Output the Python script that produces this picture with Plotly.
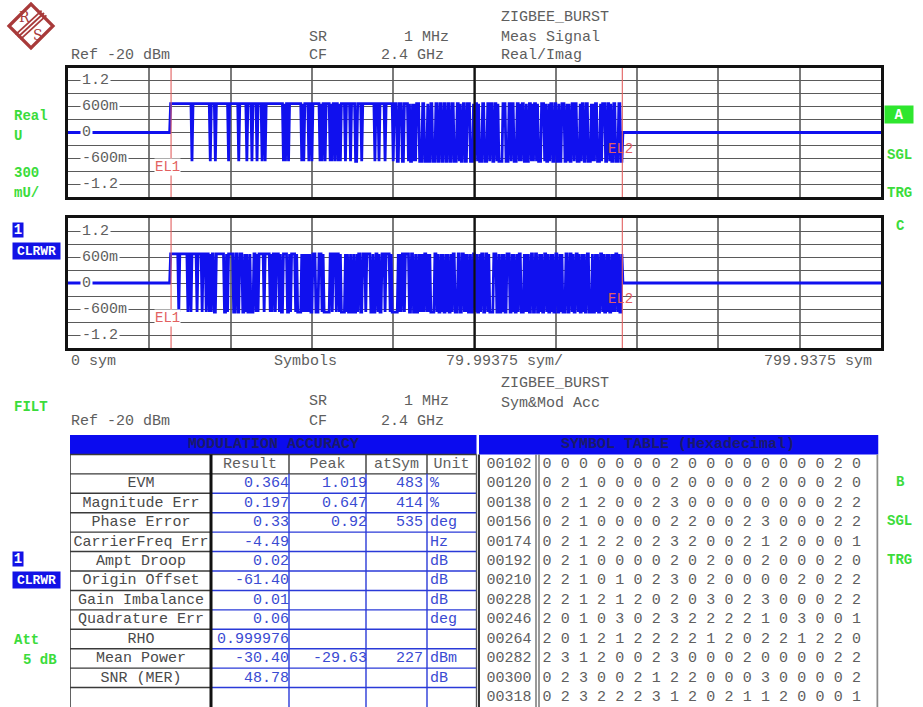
import plotly.graph_objects as go

W, H = 923, 707

# ---------------- data ----------------
x_span = 799.9375            # symbols across the trace display
x_div = 79.99375             # symbols per division
ref_level = "Ref -20 dBm"
symbol_rate = "1 MHz"
center_freq = "2.4 GHz"
marker_el1 = 101.4
marker_el2 = 545.4
iq_level = 0.67

y_tick_values = [1.2, 0.6, 0.0, -0.6, -1.2]
y_tick_text = ["1.2", "600m", "0", "-600m", "-1.2"]

mod_params = ["EVM", "Magnitude Err", "Phase Error", "CarrierFreq Err", "Ampt Droop",
              "Origin Offset", "Gain Imbalance", "Quadrature Err", "RHO", "Mean Power", "SNR (MER)"]
mod_result = ["0.364", "0.197", "0.33", "-4.49", "0.02", "-61.40", "0.01", "0.06",
              "0.999976", "-30.40", "48.78"]
mod_peak = ["1.019", "0.647", "0.92", "", "", "", "", "", "", "-29.63", ""]
mod_atsym = ["483", "414", "535", "", "", "", "", "", "", "227", ""]
mod_unit = ["%", "%", "deg", "Hz", "dB", "dB", "dB", "deg", "", "dBm", "dB"]
mod_columns = ["Result", "Peak", "atSym", "Unit"]

sym_addresses = ["00102", "00120", "00138", "00156", "00174", "00192", "00210",
                 "00228", "00246", "00264", "00282", "00300", "00318"]
sym_rows = [
    "000000020000000020",
    "021000020000200020",
    "021200230000000022",
    "021000022002300022",
    "021220232002120001",
    "021000020200200020",
    "221010230200002022",
    "221212020302300022",
    "201030232222103001",
    "201212222120221220",
    "231200230002000022",
    "023002122000300002",
    "023222312021120001",
]
# burst symbols outside the listed range (start-up symbol and the tail up to EL2)
burst_start = 101
lead_symbols = "0"
tail_symbols = (
    "231032122031302113"
    "031223310213203122"
    "130231201332012310"
    "213022133012032131"
    "023112032231003213"
    "312023110230213302"
    "103221303122103201"
    "231302210312302132"
    "013213022310321120"
    "320131230213201332"
    "123021330120231203"
    "213021130231"
)

# ---------------- derived traces ----------------
burst = lead_symbols + "".join(sym_rows) + tail_symbols
burst_x = list(range(burst_start, burst_start + len(burst)))
real_vals = [iq_level if s in "02" else -iq_level for s in burst]
imag_vals = [iq_level if s in "01" else -iq_level for s in burst]
trace_x = [0, burst_start - 1] + burst_x + [burst_x[-1] + 1, x_span]
trace_real = [0, 0] + real_vals + [0, 0]
trace_imag = [0, 0] + imag_vals + [0, 0]


def fx(px):
    return px / W


def fy(py):
    return 1 - py / H


MONO = "Liberation Mono"
GRAY = "#5e5e5e"
GREEN = "#3bdc3b"
BLUE_BOX = "#1212e6"
TRACE = "#1010ee"
RED = "#e26060"
VAL_BLUE = "#3a4ad2"
LOGO = "#a83a3a"

fig = go.Figure()

fig.add_trace(go.Scatter(x=trace_x, y=trace_real, mode="lines",
                         line=dict(color=TRACE, width=2.8), xaxis="x", yaxis="y",
                         showlegend=False, hoverinfo="skip"))
fig.add_trace(go.Scatter(x=trace_x, y=trace_imag, mode="lines",
                         line=dict(color=TRACE, width=2.8), xaxis="x2", yaxis="y2",
                         showlegend=False, hoverinfo="skip"))

axis_common_x = dict(range=[0, x_span], tick0=0, dtick=x_div, showgrid=True,
                     gridcolor="#7a7a7a", gridwidth=1.6, showticklabels=False, ticks="",
                     zeroline=False, showline=True, mirror=True, linecolor="#111",
                     linewidth=2.5, fixedrange=True)
axis_common_y = dict(range=[-1.5, 1.5], tick0=0, dtick=0.3, showgrid=True,
                     gridcolor="#5a5a5a", gridwidth=1.2, showticklabels=False, ticks="",
                     zeroline=False, showline=True, mirror=True, linecolor="#111",
                     linewidth=2.5, fixedrange=True)

# ---------------- table geometry ----------------
TL, TC1, TC2, TC3, TC4, TR = 70, 211, 289, 366, 427, 476.5
SL, SR_, SA = 479, 877.5, 536

shapes = []
annotations = []


def txt(x, y, s, anchor="left", color=GRAY, size=15, bold=False, bg=None,
        width=None, height=None, family=MONO):
    a = dict(x=fx(x), y=fy(y), xref="paper", yref="paper",
             text=("<b>%s</b>" % s) if bold else s,
             showarrow=False, xanchor=anchor, yanchor="middle",
             font=dict(family=family, size=size, color=color), borderpad=0)
    if bg:
        a["bgcolor"] = bg
    if width:
        a["width"] = width
    if height:
        a["height"] = height
    annotations.append(a)


# plot decorations (centre line, EL markers, in-plot level labels)
for xa, ya in (("x", "y"), ("x2", "y2")):
    shapes.append(dict(type="line", xref=xa, yref=ya, x0=x_span / 2, x1=x_span / 2,
                       y0=-1.5, y1=1.5, line=dict(color="#111", width=2.2)))
    for xm in (marker_el1, marker_el2):
        shapes.append(dict(type="line", xref=xa, yref=ya, x0=xm, x1=xm, y0=-1.5, y1=1.5,
                           line=dict(color=RED, width=1.1)))
    for v, t in zip(y_tick_values, y_tick_text):
        annotations.append(dict(x=12.0, y=v, xref=xa, yref=ya, text=t, showarrow=False,
                                xanchor="left", yanchor="middle", bgcolor="white",
                                borderpad=1, font=dict(family=MONO, size=15, color=GRAY)))
    annotations.append(dict(x=85, y=-0.81, xref=xa, yref=ya, text="EL1", showarrow=False,
                            xanchor="left", yanchor="middle", bgcolor="white", borderpad=0,
                            font=dict(family=MONO, size=14, color=RED)))
    annotations.append(dict(x=530, y=-0.38, xref=xa, yref=ya, text="EL2", showarrow=False,
                            xanchor="left", yanchor="middle", borderpad=0,
                            font=dict(family=MONO, size=14, color=RED)))

# header texts
for ys, yc in ((37, 56), (401, 422)):
    txt(308, ys, "SR")
    txt(450, ys, symbol_rate, anchor="right")
    txt(70, yc, ref_level)
    txt(308, yc, "CF")
    txt(380, yc, center_freq)
txt(500, 17, "ZIGBEE_BURST")
txt(500, 37, "Meas Signal")
txt(500, 56, "Real/Imag")
txt(500, 383, "ZIGBEE_BURST")
txt(500, 403, "Sym&Mod Acc")

# x-axis annotations
txt(70, 361, "0 sym")
txt(273, 361, "Symbols")
txt(564, 361, "79.99375 sym/", anchor="right")
txt(873, 361, "799.9375 sym", anchor="right")

# side status labels
for y, s in ((116, "Real"), (136, "U"), (173, "300"), (193, "mU/"), (407, "FILT"),
             (640, "Att")):
    txt(13, y, s, color=GREEN, size=14, bold=True)
txt(22, 660, "5 dB", color=GREEN, size=14, bold=True)
for y, s in ((155, "SGL"), (193, "TRG"), (521, "SGL"), (560, "TRG")):
    txt(886, y, s, color=GREEN, size=14, bold=True)
for y, s in ((226, "C"), (482, "B")):
    txt(900, y, s, anchor="center", color=GREEN, size=14, bold=True)
txt(899, 115, "A", anchor="center", color="white", size=14, bold=True, bg="#2ee62e",
    width=28, height=17)
for y1, y2 in ((230, 251), (559, 580)):
    txt(18, y1, "1", anchor="center", color="white", size=14, bold=True, bg=BLUE_BOX,
        width=10, height=14)
    txt(36.5, y2, "CLRWR", anchor="center", color="white", size=13, bold=True,
        bg=BLUE_BOX, width=47, height=16)


# R&S logo
def pth(pts):
    return "M " + " L ".join("%f,%f" % (fx(a), fy(b)) for a, b in pts) + " Z"


shapes.append(dict(type="path", xref="paper", yref="paper",
                   path=pth([(9, 26), (31, 4), (53, 26), (31, 48)]),
                   line=dict(color=LOGO, width=3.2)))
for off in (-2.4, 0, 2.4):
    shapes.append(dict(type="line", xref="paper", yref="paper",
                       x0=fx(18 + off), y0=fy(37 + off), x1=fx(44 + off), y1=fy(13 + off),
                       line=dict(color=LOGO, width=1.8)))
txt(24, 17, "R", anchor="center", color=LOGO, size=14, family="DejaVu Serif")
txt(38, 35, "S", anchor="center", color=LOGO, size=14, family="DejaVu Serif")

# ---- modulation accuracy table / symbol table ----
HDR_BLUE = "#0b0bef"
HDR_TXT = "#1b1b6a"
LINE_DK = "#3a3a3a"
LINE_BL = "#2a3ad8"
n_rows = 14


def tline(x0, y0, x1, y1, color, width):
    shapes.append(dict(type="line", xref="x3", yref="y3", x0=x0, y0=y0, x1=x1, y1=y1,
                       line=dict(color=color, width=width)))


shapes.append(dict(type="rect", xref="x3", yref="y3", x0=TL, x1=TR, y0=0, y1=1,
                   fillcolor=HDR_BLUE, line=dict(width=0), layer="below"))
shapes.append(dict(type="rect", xref="x3", yref="y3", x0=SL, x1=SR_ + 1, y0=0, y1=1,
                   fillcolor=HDR_BLUE, line=dict(width=0), layer="below"))

for k in range(1, n_rows):
    tline(TL, k, TC1, k, LINE_DK, 1.4)
    tline(TC1, k, TR, k, LINE_DK if k <= 2 else LINE_BL, 1.4)
tline(TL, 1, TL, n_rows, LINE_DK, 1.6)
tline(TR, 1, TR, n_rows, "#555", 1.4)
for xc in (TC2, TC3, TC4):
    tline(xc, 1, xc, 2, LINE_DK, 1.4)
    tline(xc, 2, xc, n_rows, LINE_BL, 1.4)
tline(TC1, 1, TC1, n_rows, "#111", 3)

tline(SL, 1, SL, n_rows, "#333", 2)
tline(SR_, 1, SR_, n_rows, "#8a8a8a", 2)
tline(SA, 1, SA, n_rows, "#555", 1.2)
tline(SA + 3, 1, SA + 3, n_rows, "#555", 1.2)

annotations.append(dict(x=(TL + TR) / 2, y=0.5, xref="x3", yref="y3",
                        text="<b>MODULATION ACCURACY</b>", showarrow=False,
                        font=dict(family=MONO, size=15, color=HDR_TXT)))
annotations.append(dict(x=(SL + SR_) / 2, y=0.5, xref="x3", yref="y3",
                        text="<b>SYMBOL TABLE (Hexadecimal)</b>", showarrow=False,
                        font=dict(family=MONO, size=15, color=HDR_TXT)))

rows_y = [k + 2.5 for k in range(len(mod_params))]


def text_trace(xs, ys, texts, pos, color):
    fig.add_trace(go.Scatter(x=xs, y=ys, text=texts, mode="text", textposition=pos,
                             textfont=dict(family=MONO, size=15, color=color),
                             xaxis="x3", yaxis="y3", showlegend=False, hoverinfo="skip",
                             cliponaxis=False))


text_trace([250, 327.5, 396.5, 451.5], [1.5] * 4, mod_columns, "middle center", GRAY)
text_trace([141] * len(mod_params), rows_y, mod_params, "middle center", "#4a4a4a")
text_trace([289] * len(rows_y), rows_y, mod_result, "middle left", VAL_BLUE)
text_trace([367] * len(rows_y), rows_y, mod_peak, "middle left", VAL_BLUE)
text_trace([423] * len(rows_y), rows_y, mod_atsym, "middle left", VAL_BLUE)
text_trace([430] * len(rows_y), rows_y, mod_unit, "middle right", VAL_BLUE)

addr_y = [k + 1.5 for k in range(len(sym_addresses))]
text_trace([509] * len(addr_y), addr_y, sym_addresses, "middle center", GRAY)
dig_x, dig_y, dig_t = [], [], []
for r, row in enumerate(sym_rows):
    for j, ch in enumerate(row):
        dig_x.append(547 + 18.2 * j)
        dig_y.append(addr_y[r])
        dig_t.append(ch)
text_trace(dig_x, dig_y, dig_t, "middle center", GRAY)

fig.update_layout(
    width=W, height=H, margin=dict(l=0, r=0, t=0, b=0),
    paper_bgcolor="white", plot_bgcolor="white", showlegend=False,
    xaxis=dict(domain=[fx(68), fx(881)], anchor="y", **axis_common_x),
    yaxis=dict(domain=[fy(197), fy(68)], anchor="x", **axis_common_y),
    xaxis2=dict(domain=[fx(68), fx(881)], anchor="y2", **axis_common_x),
    yaxis2=dict(domain=[fy(348), fy(218)], anchor="x2", **axis_common_y),
    xaxis3=dict(domain=[fx(TL), fx(SR_ + 1)], range=[TL, SR_ + 1], anchor="y3",
                visible=False, fixedrange=True),
    yaxis3=dict(domain=[fy(707), fy(435)], range=[n_rows, 0], anchor="x3",
                visible=False, fixedrange=True),
    shapes=shapes, annotations=annotations,
)

fig.write_html("out.html", config={"displayModeBar": False})
